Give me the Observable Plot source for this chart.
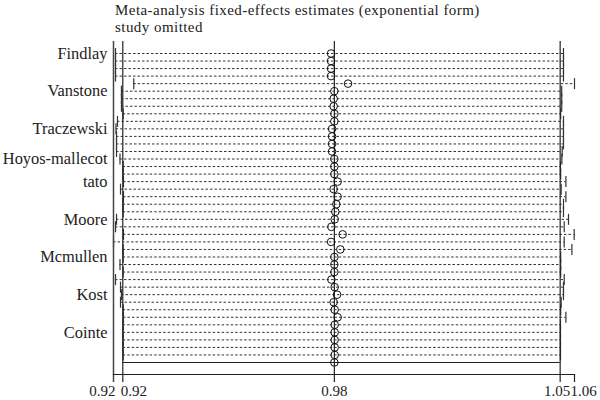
<!DOCTYPE html>
<html><head><meta charset="utf-8">
<script src="https://cdn.jsdelivr.net/npm/d3@7"></script>
<script src="https://cdn.jsdelivr.net/npm/@observablehq/plot@0.6"></script>
<style>
body{margin:0;background:#fff;font-family:"Liberation Serif",serif;}
#title{position:absolute;left:115px;top:2px;font-size:15px;letter-spacing:0.45px;line-height:17.4px;color:#222;white-space:nowrap;}
#chart{position:absolute;left:0;top:40px;line-height:0;}
#chart svg{display:block;}
#chart svg text{font-family:"Liberation Serif",serif !important;}
</style></head><body>
<div id="title">Meta-analysis fixed-effects estimates (exponential form)<br>study omitted</div>
<div id="chart"></div>
<script>
// one row per omitted study; the last row is the combined estimate
const estimates = [0.98046,0.98046,0.98046,0.98046,0.98552,0.98144,0.98123,0.98123,0.98144,0.98144,
  0.98076,0.98076,0.98076,0.98076,0.98144,0.98144,0.98144,0.98242,0.98123,0.98242,
  0.98203,0.98174,0.98153,0.98055,0.98391,0.98046,0.98322,0.98144,0.98144,0.98144,
  0.98055,0.98153,0.98224,0.98123,0.98153,0.98242,0.98153,0.98153,0.98153,0.98153,
  0.98153,0.98144];
const lowerCI = [0.91842,0.91842,0.91842,0.91842,0.92352,0.92008,0.92008,0.92008,0.92056,0.91897,
  0.91856,0.91870,0.91870,0.91870,0.91967,0.92056,0.92056,0.92064,0.91981,0.92064,
  0.92056,0.92056,0.91870,0.91842,0.92064,0.91786,0.92056,0.92056,0.91967,0.92056,
  0.91842,0.91981,0.92008,0.91981,0.92056,0.92064,0.92056,0.92056,0.92056,0.92056,
  0.92056,0.92045];
const upperCI = [1.05206,1.05206,1.05206,1.05206,1.05558,1.05149,1.05149,1.05149,1.05116,1.05206,
  1.05206,1.05206,1.05206,1.05165,1.05155,1.05110,1.05116,1.05283,1.05132,1.05283,
  1.05206,1.05206,1.05366,1.05229,1.05548,1.05229,1.05475,1.05116,1.05116,1.05116,
  1.05229,1.05206,1.05206,1.05132,1.05116,1.05283,1.05110,1.05110,1.05110,1.05110,
  1.05110,1.05100];
const studyLabels = ["Findlay","Vanstone","Traczewski","Hoyos-mallecot","tato","Moore","Mcmullen","Kost","Cointe"];
const labelRows = [0,5,10,14,17,22,27,32,37];

const n = estimates.length;
const rows = estimates.map((e,i)=>({row:i, est:e, lo:lowerCI[i], hi:upperCI[i]}));
const studies = rows.slice(0, n-1);
const combined = rows.slice(n-1);
const labels = studyLabels.map((s,i)=>({name:s,row:labelRows[i]}));
const xmin = d3.min(lowerCI), xmax = d3.max(upperCI);
const C = combined[0];
const ink = "#222";
const serif = "Liberation Serif, serif";
const fmt = d3.format(".2f");

// vertical cap symbol for the CI ends
const cap = {draw(ctx, size) { const h = Math.sqrt(size / Math.PI); ctx.moveTo(0, -h); ctx.lineTo(0, h); }};
const tickLabel = (vals, anchor, dx) => Plot.text(vals, {x: d => d, text: d => fmt(d), frameAnchor: "bottom", lineAnchor: "top", dy: 11, dx, textAnchor: anchor, fill: ink, fontFamily: serif, fontSize: 15});

const chart = Plot.plot({
  width: 600, height: 360,
  marginTop: 1, marginBottom: 26, marginLeft: 113, marginRight: 26,
  style: 'font-family: "Liberation Serif", serif; font-size: 15px; background: #fff; overflow: visible;',
  x: {type: "log", domain: [xmin, xmax], axis: null},
  y: {type: "point", domain: d3.range(n), padding: 0, round: false, insetTop: 12, insetBottom: 12, axis: null},
  marks: [
    Plot.ruleY(studies, {y: "row", x1: "lo", x2: "hi", stroke: "#333", strokeWidth: 1, strokeDasharray: "2.5,2"}),
    Plot.ruleY(combined, {y: "row", x1: "lo", x2: "hi", stroke: ink, strokeWidth: 1.2}),
    Plot.dot(studies, {x: "lo", y: "row", r: 5.5, symbol: cap, stroke: "#333", strokeWidth: 1.2, fill: "none"}),
    Plot.dot(studies, {x: "hi", y: "row", r: 5.5, symbol: cap, stroke: "#333", strokeWidth: 1.2, fill: "none"}),
    Plot.ruleX([xmin], {stroke: "#444", strokeWidth: 1.5, insetBottom: -8}),
    Plot.ruleX([C.lo, C.est, C.hi], {stroke: ink, strokeWidth: 1.2, insetBottom: -8}),
    Plot.ruleX([xmax], {stroke: ink, strokeWidth: 1.2, insetTop: 333, insetBottom: -8}),
    Plot.frame({anchor: "bottom", stroke: ink, strokeWidth: 1.2}),
    tickLabel([xmin], "end", 2),
    tickLabel([C.lo], "start", -2),
    tickLabel([C.est], "middle", 0),
    tickLabel([C.hi], "middle", -3),
    tickLabel([xmax], "start", -4),
    Plot.dot(rows, {x: "est", y: "row", r: 3.8, stroke: "#111", strokeWidth: 1, fill: "none"}),
    Plot.text(labels, {y: "row", text: "name", frameAnchor: "left", textAnchor: "end", dx: -6, fill: ink, fontFamily: serif, fontSize: 16.4})
  ]
});
document.getElementById("chart").appendChild(chart);
</script>
</body></html>
